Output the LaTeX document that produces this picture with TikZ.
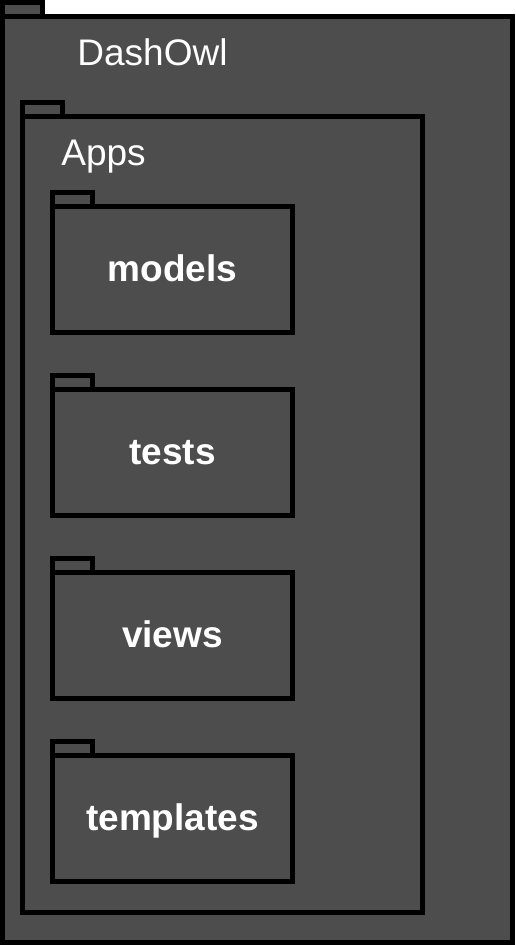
\documentclass[tikz,border=0pt]{standalone}
\usepackage{fontspec}
\setmainfont{Liberation Sans}
\definecolor{pkgfill}{HTML}{4D4D4D}
\tikzset{
  pkgshape/.style={rectangle, draw=black, fill=pkgfill, line width=4.5pt,
    inner sep=0pt, outer sep=0pt, anchor=north west},
  pkgtab/.style={pkgshape, minimum width=40pt, minimum height=14pt},
  pkgname/.style={text=white, font=\fontsize{37}{41}\selectfont, anchor=base},
  modulebox/.style={pkgshape, minimum width=240pt, minimum height=126pt,
    text=white, font=\fontsize{37}{41}\selectfont\bfseries,
    text height=30pt, text depth=6pt}
}
\begin{document}
\begin{tikzpicture}[x=1pt,y=-1pt]
\useasboundingbox (0,0) rectangle (515,945);
% project package
\node[pkgtab] (dashowl-tab) at (2.5,2.5) {};
\node[pkgshape, minimum width=510pt, minimum height=926pt] (dashowl) at (2.5,16.5) {};
\node[pkgname] (dashowl-name) at (152.5,65) {DashOwl};
% Apps package
\node[pkgtab] (apps-tab) at (22.5,102.5) {};
\node[pkgshape, minimum width=400pt, minimum height=796pt] (apps) at (22.5,116.5) {};
\node[pkgname] (apps-name) at (103.5,165) {Apps};
% sub-packages of Apps
\foreach \name [count=\i from 0] in {models,tests,views,templates}{
  \pgfmathsetmacro{\ty}{192.5+183*\i}
  \node[pkgtab] (\name-tab) at (52.5,\ty) {};
  \node[modulebox] (\name) at (52.5,\ty+14) {\name};
}
\end{tikzpicture}
\end{document}
